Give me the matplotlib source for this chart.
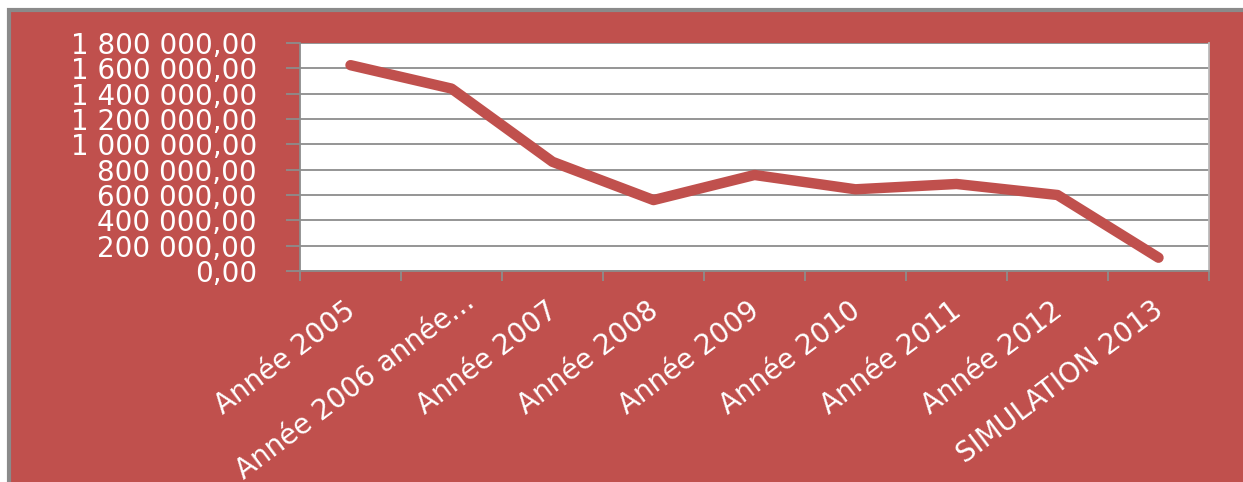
import matplotlib
matplotlib.use("Agg")
import matplotlib.pyplot as plt
from matplotlib.patches import Rectangle
from matplotlib.ticker import FuncFormatter, MultipleLocator
from matplotlib.transforms import blended_transform_factory, ScaledTranslation

categories = ["Année 2005", "Année 2006 année…", "Année 2007", "Année 2008",
              "Année 2009", "Année 2010", "Année 2011", "Année 2012",
              "SIMULATION 2013"]
values = [1625000, 1440000, 862000, 560000, 758000, 645000, 687000, 600000, 105000]

red = "#C0504D"
grid_gray = "#8C8C8C"

W, H = 1243, 482
fig = plt.figure(figsize=(W / 100, H / 100), dpi=100, facecolor="white")
fig.patches.append(Rectangle((9 / W, -0.1), 1.2, 1 - 9 / H + 0.1 - 1 / H,
                             transform=fig.transFigure, facecolor=red,
                             edgecolor="#8A8A8A", linewidth=3, zorder=-10))

ax = fig.add_axes([300 / W, 1 - 271 / H, (1209 - 300) / W, (271 - 43) / H])
ax.set_facecolor("white")

x = list(range(len(categories)))
ax.plot(x, values, color=red, linewidth=7.5, solid_capstyle="round",
        solid_joinstyle="round", zorder=3)

ax.set_xlim(-0.5, len(categories) - 0.5)
ax.set_ylim(0, 1800000)
ax.yaxis.set_major_locator(MultipleLocator(200000))


def fr(v, pos):
    return f"{v:,.2f}".replace(",", " ").replace(".", ",")


ax.yaxis.set_major_formatter(FuncFormatter(fr))
ax.grid(axis="y", color=grid_gray, linewidth=1.3, zorder=1)

# ticks on category boundaries, labels placed under the centres
ax.set_xticks([i - 0.5 for i in range(len(categories) + 1)])
ax.set_xticklabels([])
ax.tick_params(axis="x", length=7, width=1.3, color=grid_gray)
base = blended_transform_factory(ax.transData, ax.transAxes)
for xi, lab in zip(x, categories):
    # the truncated label sits a bit higher and further right, like in Excel
    dx, dy = (12, -16) if lab.endswith("…") else (-7, -25)
    trans = base + ScaledTranslation(dx / 100, dy / 100, fig.dpi_scale_trans)
    ax.text(xi, 0, lab, transform=trans, rotation=37, rotation_mode="anchor",
            ha="right", va="top", color="white", fontsize=20,
            family="DejaVu Sans", clip_on=False)

ax.tick_params(axis="y", length=10, width=1.3, color=grid_gray, pad=21,
               labelcolor="white", labelsize=20)
for lab in ax.get_yticklabels():
    lab.set_family("DejaVu Sans")

for s in ax.spines.values():
    s.set_color(grid_gray)
    s.set_linewidth(1.3)
ax.spines["top"].set_visible(False)
ax.spines["right"].set_color("#BBBBBB")

fig.savefig("out.png", dpi=100, facecolor="white")
